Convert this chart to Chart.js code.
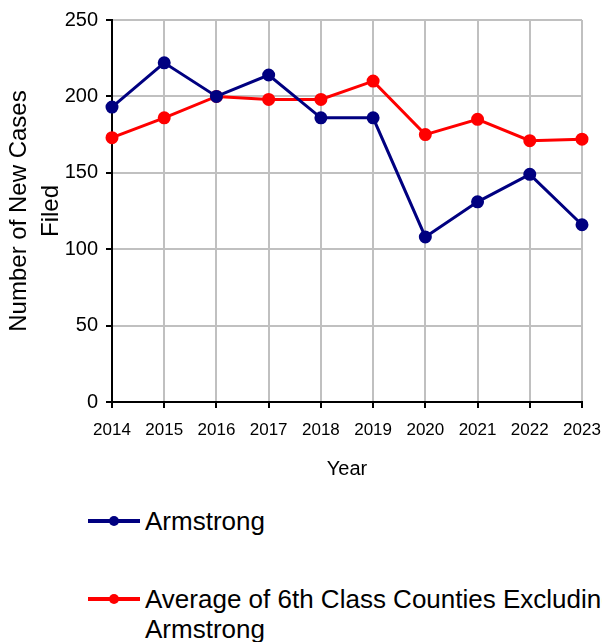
<!DOCTYPE html>
<html>
<head>
<meta charset="utf-8">
<script src="https://cdn.jsdelivr.net/npm/chart.js@4"></script>
<style>
  html, body { margin: 0; padding: 0; background: #fff; overflow: hidden; }
  body { width: 602px; height: 642px; position: relative; font-family: "Liberation Sans", Arial, sans-serif; }
  #wrap { position: absolute; left: 0; top: 0; width: 602px; height: 485px; }
  .legend-item { position: absolute; left: 88px; font-size: 26px; color: #000; line-height: 30px; white-space: nowrap; }
  .legend-item .sym { position: absolute; left: 0; top: 13px; width: 52px; height: 4px; }
  .legend-item .sym i { position: absolute; left: 21px; top: -3px; width: 10px; height: 10px; border-radius: 50%; }
  .legend-item .txt { position: absolute; left: 57px; top: 0; }
</style>
</head>
<body>
<div id="wrap"><canvas id="myChart"></canvas></div>
<div class="legend-item" id="leg1" style="top:506px"><span class="sym"><i></i></span><span class="txt"></span></div>
<div class="legend-item" id="leg2" style="top:584px"><span class="sym"><i></i></span><span class="txt"></span></div>
<script>
const years = ["2014", "2015", "2016", "2017", "2018", "2019", "2020", "2021", "2022", "2023"];
const armstrong = [193, 222, 200, 214, 186, 186, 108, 131, 149, 116];
const sixthClassAvg = [173, 186, 200, 198, 198, 210, 175, 185, 171, 172];
const seriesNames = ["Armstrong", "Average of 6th Class Counties Excluding Armstrong"];
const seriesColors = ["#000080", "#ff0000"];
const legendLines = [["Armstrong"], ["Average of 6th Class Counties Excluding", "Armstrong"]];

const font = "'Liberation Sans', Arial, sans-serif";

// html legend (the original wraps and clips on the right)
["leg1", "leg2"].forEach((id, i) => {
  const el = document.getElementById(id);
  el.querySelector(".sym").style.background = seriesColors[i];
  el.querySelector(".sym i").style.background = seriesColors[i];
  el.querySelector(".txt").innerHTML = legendLines[i].join("<br>");
});

const ctx = document.getElementById("myChart");
new Chart(ctx, {
  type: "line",
  data: {
    labels: years,
    datasets: [
      {
        label: seriesNames[0],
        data: armstrong,
        borderColor: seriesColors[0],
        backgroundColor: seriesColors[0],
        borderWidth: 3,
        pointRadius: 5,
        pointHoverRadius: 5,
      },
      {
        label: seriesNames[1],
        data: sixthClassAvg,
        borderColor: seriesColors[1],
        backgroundColor: seriesColors[1],
        borderWidth: 3,
        pointRadius: 5,
        pointHoverRadius: 5,
      },
    ],
  },
  options: {
    responsive: true,
    maintainAspectRatio: false,
    animation: false,
    layout: {
      padding: { left: 0, right: 0, top: 18, bottom: 0 },
    },
    plugins: {
      legend: { display: false },
      tooltip: { enabled: false },
    },
    scales: {
      x: {
        offset: false,
        grid: { color: "#c0c0c0", lineWidth: 2, tickColor: "#000", tickLength: 6 },
        border: { color: "#000", width: 2 },
        ticks: { color: "#000", padding: 12, maxRotation: 0, font: { family: font, size: 17 } },
        title: { display: true, text: "Year", color: "#000", padding: { top: 9 }, font: { family: font, size: 20 } },
        afterFit: (scale) => {
          scale.height = 83;
          scale.paddingLeft = 0;
          scale.paddingRight = 20;
        },
      },
      y: {
        min: 0,
        max: 250,
        ticks: { stepSize: 50, color: "#000", padding: 8, font: { family: font, size: 20 } },
        grid: { color: "#c0c0c0", lineWidth: 2, tickColor: "#000", tickLength: 6 },
        border: { color: "#000", width: 2 },
        title: {
          display: true,
          text: ["Number of New Cases", "Filed"],
          color: "#000",
          padding: { top: 3, bottom: 0 },
          font: { family: font, size: 24, lineHeight: 1.35 },
        },
        afterFit: (scale) => { scale.width = 112; },
      },
    },
  },
});
</script>
</body>
</html>
